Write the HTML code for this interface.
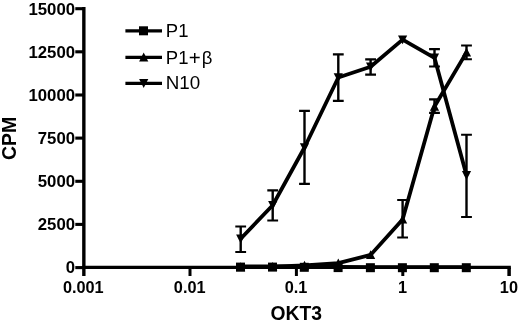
<!DOCTYPE html><html><head><meta charset="utf-8"><title>OKT3 CPM chart</title><style>html,body{margin:0;padding:0;background:#fff}svg{display:block}text{font-family:"Liberation Sans",Arial,sans-serif;fill:#000}.b{font-weight:bold;font-size:16px}.t{font-weight:bold;font-size:18px}.l{font-size:18.5px}</style></head><body>
<svg width="520" height="322" viewBox="0 0 520 322">
<rect width="520" height="322" fill="#fff"/>
<g stroke="#000" fill="none" stroke-width="3">
<path d="M83.85 7.0V276" stroke-width="3.4"/>
<path d="M82.4 267.40H510.85" stroke-width="3.15"/>
<path d="M75.3 267.6H83.6" stroke-width="3.1"/>
<path d="M75.3 224.4H83.6" stroke-width="3.1"/>
<path d="M75.3 181.3H83.6" stroke-width="3.1"/>
<path d="M75.3 138.1H83.6" stroke-width="3.1"/>
<path d="M75.3 95.0H83.6" stroke-width="3.1"/>
<path d="M75.3 51.8H83.6" stroke-width="3.1"/>
<path d="M75.3 8.7H83.6" stroke-width="3.1"/>
<path d="M190.0 267.55V276" stroke-width="3"/>
<path d="M296.4 267.55V276" stroke-width="3"/>
<path d="M402.8 267.55V276" stroke-width="3"/>
<path d="M509.1 267.55V276" stroke-width="3.5"/>
</g>
<g transform="scale(1,1.0)"><polyline fill="none" stroke="#000" stroke-width="3.8" stroke-linejoin="round" points="240.7,266.50 272.7,266.50 304.5,266.70 338.3,267.00 370.6,267.15 402.6,267.20 434.5,267.20 466.5,267.20"/></g>
<g transform="scale(1,1.0)"><polyline fill="none" stroke="#000" stroke-width="3.8" stroke-linejoin="round" points="240.7,267.00 272.7,266.70 304.5,265.50 338.3,263.20 370.6,254.90 402.6,219.40 434.5,106.50 466.5,52.40"/></g>
<g transform="scale(1,1.0)"><polyline fill="none" stroke="#000" stroke-width="3.8" stroke-linejoin="round" points="240.7,238.80 272.7,205.25 304.5,147.50 338.3,77.50 370.6,66.80 402.6,39.60 434.5,57.80 466.5,175.30"/></g>
<path d="M240.7 226.5V252" stroke="#000" stroke-width="2.4" fill="none"/><path d="M235.3 226.5h10.8M235.3 252h10.8" stroke="#000" stroke-width="2.15" fill="none"/>
<path d="M272.7 190.3V220.5" stroke="#000" stroke-width="2.4" fill="none"/><path d="M267.3 190.3h10.8M267.3 220.5h10.8" stroke="#000" stroke-width="2.15" fill="none"/>
<path d="M304.5 110.85V183.9" stroke="#000" stroke-width="2.4" fill="none"/><path d="M299.1 110.85h10.8M299.1 183.9h10.8" stroke="#000" stroke-width="2.15" fill="none"/>
<path d="M338.3 54.3V100.9" stroke="#000" stroke-width="2.4" fill="none"/><path d="M332.9 54.3h10.8M332.9 100.9h10.8" stroke="#000" stroke-width="2.15" fill="none"/>
<path d="M370.6 59.35V74.6" stroke="#000" stroke-width="2.4" fill="none"/><path d="M365.2 59.35h10.8M365.2 74.6h10.8" stroke="#000" stroke-width="2.15" fill="none"/>
<path d="M434.5 49.1V66.5" stroke="#000" stroke-width="2.4" fill="none"/><path d="M429.1 49.1h10.8M429.1 66.5h10.8" stroke="#000" stroke-width="2.15" fill="none"/>
<path d="M466.5 134.75V217.0" stroke="#000" stroke-width="2.4" fill="none"/><path d="M461.1 134.75h10.8M461.1 217.0h10.8" stroke="#000" stroke-width="2.15" fill="none"/>
<path d="M402.6 200.0V237.5" stroke="#000" stroke-width="2.4" fill="none"/><path d="M397.2 200.0h10.8M397.2 237.5h10.8" stroke="#000" stroke-width="2.15" fill="none"/>
<path d="M434.5 99.3V112.8" stroke="#000" stroke-width="2.4" fill="none"/><path d="M429.1 99.3h10.8M429.1 112.8h10.8" stroke="#000" stroke-width="2.15" fill="none"/>
<path d="M466.5 45.5V59.25" stroke="#000" stroke-width="2.4" fill="none"/><path d="M461.1 45.5h10.8M461.1 59.25h10.8" stroke="#000" stroke-width="2.15" fill="none"/>
<g fill="#000">
<rect x="236.0" y="262.6" width="9.0" height="9.0"/>
<rect x="268.0" y="262.6" width="9.0" height="9.0"/>
<rect x="299.8" y="262.8" width="9.0" height="9.0"/>
<rect x="333.6" y="263.1" width="9.0" height="9.0"/>
<rect x="365.9" y="263.2" width="9.0" height="9.0"/>
<rect x="397.9" y="263.2" width="9.0" height="9.0"/>
<rect x="429.8" y="263.2" width="9.0" height="9.0"/>
<rect x="461.8" y="263.2" width="9.0" height="9.0"/>
<path d="M240.7 262.3L245.3 271.2H236.1Z"/>
<path d="M272.7 262.0L277.3 270.9H268.1Z"/>
<path d="M304.5 260.8L309.1 269.7H299.9Z"/>
<path d="M338.3 258.5L342.9 267.4H333.7Z"/>
<path d="M370.6 250.2L375.2 259.1H366.0Z"/>
<path d="M402.6 214.7L407.2 223.6H398.0Z"/>
<path d="M434.5 101.8L439.1 110.7H429.9Z"/>
<path d="M466.5 47.7L471.1 56.6H461.9Z"/>
<path d="M240.7 243.5L245.3 234.6H236.1Z"/>
<path d="M272.7 209.9L277.3 201.1H268.1Z"/>
<path d="M304.5 152.2L309.1 143.3H299.9Z"/>
<path d="M338.3 82.2L342.9 73.3H333.7Z"/>
<path d="M370.6 71.5L375.2 62.6H366.0Z"/>
<path d="M402.6 44.3L407.2 35.4H398.0Z"/>
<path d="M434.5 62.5L439.1 53.6H429.9Z"/>
<path d="M466.5 180.0L471.1 171.1H461.9Z"/>
</g>
<path d="M125.4 30.8H162" stroke="#000" stroke-width="3.3" fill="none"/>
<rect x="139.0" y="26.3" width="9.0" height="9.0"/>
<path d="M125.4 57.3H162" stroke="#000" stroke-width="3.3" fill="none"/>
<path d="M143.7 52.6L148.3 61.5H139.1Z"/>
<path d="M125.4 83.3H162" stroke="#000" stroke-width="3.3" fill="none"/>
<path d="M143.7 88.0L148.3 79.1H139.1Z"/>
<text class="l" x="165.8" y="37.3">P1</text>
<text class="l" x="165.8" y="63.8">P1<tspan dx="0.3" dy="0.7" style="font-size:20.5px">+</tspan><tspan dx="1.0" dy="-0.7">β</tspan></text>
<text class="l" x="165.7" y="89.1" style="font-size:18.8px">N10</text>
<text class="b" x="75.1" y="273.4" text-anchor="end" style="font-size:16.8px">0</text>
<text class="b" x="75.1" y="230.3" text-anchor="end" style="font-size:16.8px">2500</text>
<text class="b" x="75.1" y="187.1" text-anchor="end" style="font-size:16.8px">5000</text>
<text class="b" x="75.1" y="144.0" text-anchor="end" style="font-size:16.8px">7500</text>
<text class="b" x="75.1" y="100.8" text-anchor="end" style="font-size:16.8px">10000</text>
<text class="b" x="75.1" y="57.7" text-anchor="end" style="font-size:16.8px">12500</text>
<text class="b" x="75.1" y="14.5" text-anchor="end" style="font-size:16.8px">15000</text>
<text class="b" x="83.3" y="293.1" text-anchor="middle" style="font-size:16.3px">0.001</text>
<text class="b" x="189.7" y="293.1" text-anchor="middle" style="font-size:16.3px">0.01</text>
<text class="b" x="296.1" y="293.1" text-anchor="middle" style="font-size:16.3px">0.1</text>
<text class="b" x="402.5" y="293.1" text-anchor="middle" style="font-size:16.3px">1</text>
<text class="b" x="508.9" y="293.1" text-anchor="middle" style="font-size:16.3px">10</text>
<text class="t" x="296.2" y="320.2" text-anchor="middle" style="font-size:19.3px">OKT3</text>
<text class="t" transform="translate(16.4 138.3) rotate(-90)" text-anchor="middle" style="font-size:19.5px">CPM</text>
</svg></body></html>
